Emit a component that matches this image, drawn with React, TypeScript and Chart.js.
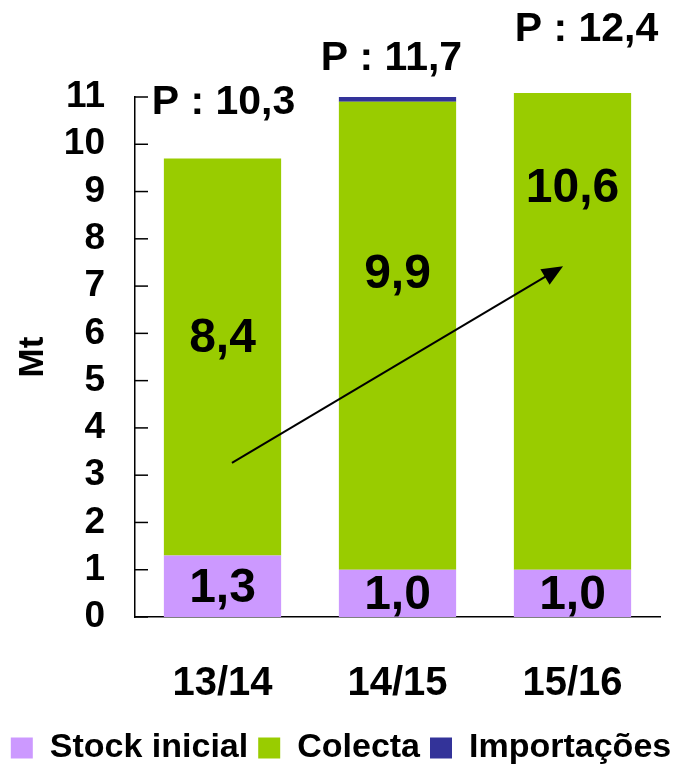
import React, { useEffect, useRef } from 'react';
import { Chart, registerables } from 'chart.js';

Chart.register(...registerables);

// ---- data ----
const categories = ['13/14', '14/15', '15/16'];
const stockInicial = [1.3, 1.0, 1.0];
const colecta = [8.4, 9.9, 10.6];
const importacoes = [0, 0.1, 0];
const stockLabels = ['1,3', '1,0', '1,0'];
const colectaLabels = ['8,4', '9,9', '10,6'];
const productionLabels = ['P : 10,3', 'P : 11,7', 'P : 12,4'];
const seriesNames = ['Stock inicial', 'Colecta', 'Importações'];
const yMin = 0;
const yMax = 11;
const yStep = 1;

// ---- layout / style constants ----
const COLORS = ['#CC99FF', '#99CC00', '#333399'];
const FONT = "'Liberation Sans', Arial, Helvetica, sans-serif";
const COLECTA_LABEL_Y = [5.89, 7.25, 9.05];
const PROD_LABEL_Y = [10.87, 11.8, 12.42];
const PROD_LABEL_DX = [1, -6, 14];
const ARROW = { x0: 0.054, y0: 3.26, x1: 1.946, y1: 7.42 };

const overlay = {
  id: 'overlay',
  afterDraw(chart: any) {
    const { ctx, chartArea, scales } = chart;
    const x = scales.x;
    const y = scales.y;
    ctx.save();
    // inward tick marks on the y axis
    ctx.strokeStyle = '#000';
    ctx.lineWidth = 1.5;
    y.ticks.forEach((t: any) => {
      const py = y.getPixelForValue(t.value);
      ctx.beginPath();
      ctx.moveTo(chartArea.left, py);
      ctx.lineTo(chartArea.left + 13, py);
      ctx.stroke();
    });

    // value labels
    ctx.fillStyle = '#000';
    ctx.textAlign = 'center';
    ctx.textBaseline = 'middle';
    ctx.font = `bold 48px ${FONT}`;
    const m0 = chart.getDatasetMeta(0);
    m0.data.forEach((el: any, i: number) => {
      ctx.fillText(stockLabels[i], el.x, (el.y + el.base) / 2 + 2);
    });
    const m1 = chart.getDatasetMeta(1);
    m1.data.forEach((el: any, i: number) => {
      ctx.fillText(colectaLabels[i], el.x, y.getPixelForValue(COLECTA_LABEL_Y[i]));
    });

    // production labels
    ctx.font = `bold 41px ${FONT}`;
    productionLabels.forEach((t, i) => {
      ctx.fillText(t, x.getPixelForValue(i) + PROD_LABEL_DX[i], y.getPixelForValue(PROD_LABEL_Y[i]));
    });

    // arrow
    const ax0 = x.getPixelForValue(ARROW.x0);
    const ay0 = y.getPixelForValue(ARROW.y0);
    const ax1 = x.getPixelForValue(ARROW.x1);
    const ay1 = y.getPixelForValue(ARROW.y1);
    const ang = Math.atan2(ay1 - ay0, ax1 - ax0);
    const hl = 21;
    const hw = 9;
    ctx.lineWidth = 2;
    ctx.beginPath();
    ctx.moveTo(ax0, ay0);
    ctx.lineTo(ax1 - Math.cos(ang) * (hl - 2), ay1 - Math.sin(ang) * (hl - 2));
    ctx.stroke();
    ctx.beginPath();
    ctx.moveTo(ax1, ay1);
    ctx.lineTo(
      ax1 - Math.cos(ang) * hl - Math.sin(ang) * hw,
      ay1 - Math.sin(ang) * hl + Math.cos(ang) * hw
    );
    ctx.lineTo(
      ax1 - Math.cos(ang) * hl + Math.sin(ang) * hw,
      ay1 - Math.sin(ang) * hl - Math.cos(ang) * hw
    );
    ctx.closePath();
    ctx.fill();
    ctx.restore();
  },
};

export default function App() {
  const ref = useRef<HTMLCanvasElement>(null);

  useEffect(() => {
    document.body.style.margin = '0';
    document.body.style.overflow = 'hidden';
    const canvas = ref.current;
    if (!canvas) return;
    const values = [stockInicial, colecta, importacoes];
    const chart = new Chart(canvas, {
      type: 'bar',
      data: {
        labels: categories,
        datasets: values.map((v, i) => ({
          label: seriesNames[i],
          data: v,
          backgroundColor: COLORS[i],
          borderWidth: 0,
          categoryPercentage: 1,
          barPercentage: 0.67,
          clip: { left: 0, top: 4, right: 0, bottom: 0 },
        })),
      },
      options: {
        responsive: false,
        animation: false,
        devicePixelRatio: 1,
        layout: { padding: { top: 97, left: 0, right: 0, bottom: -8 } },
        plugins: {
          legend: {
            position: 'bottom',
            labels: {
              boxWidth: 22,
              boxHeight: 21,
              padding: 10,
              color: '#000',
              font: { family: FONT, size: 34, weight: 'bold' },
            },
          },
          tooltip: { enabled: false },
        },
        scales: {
          x: {
            stacked: true,
            grid: { display: false, drawTicks: false },
            border: { display: true, color: '#000', width: 1.5 },
            ticks: {
              color: '#000',
              padding: 43,
              font: { family: FONT, size: 40, weight: 'bold' },
            },
            afterFit: (s: any) => {
              s.height = 104;
            },
          },
          y: {
            stacked: true,
            min: yMin,
            max: yMax,
            grid: { display: false, drawTicks: false },
            border: { display: true, color: '#000', width: 1.5 },
            ticks: {
              stepSize: yStep,
              autoSkip: false,
              color: '#000',
              padding: 30,
              font: { family: FONT, size: 37, weight: 'bold' },
            },
            title: {
              display: true,
              text: 'Mt',
              color: '#000',
              padding: { top: 12, bottom: 0 },
              font: { family: FONT, size: 35, weight: 'bold' },
            },
            afterFit: (s: any) => {
              s.width = 135;
            },
          },
          yR: {
            position: 'right',
            display: true,
            grid: { display: false, drawTicks: false },
            border: { display: false },
            ticks: { display: false },
            afterFit: (s: any) => {
              s.width = 22;
            },
          },
        },
      },
      plugins: [overlay],
    } as any);
    return () => chart.destroy();
  }, []);

  return <canvas ref={ref} width={682} height={767} style={{ display: 'block' }} />;
}
